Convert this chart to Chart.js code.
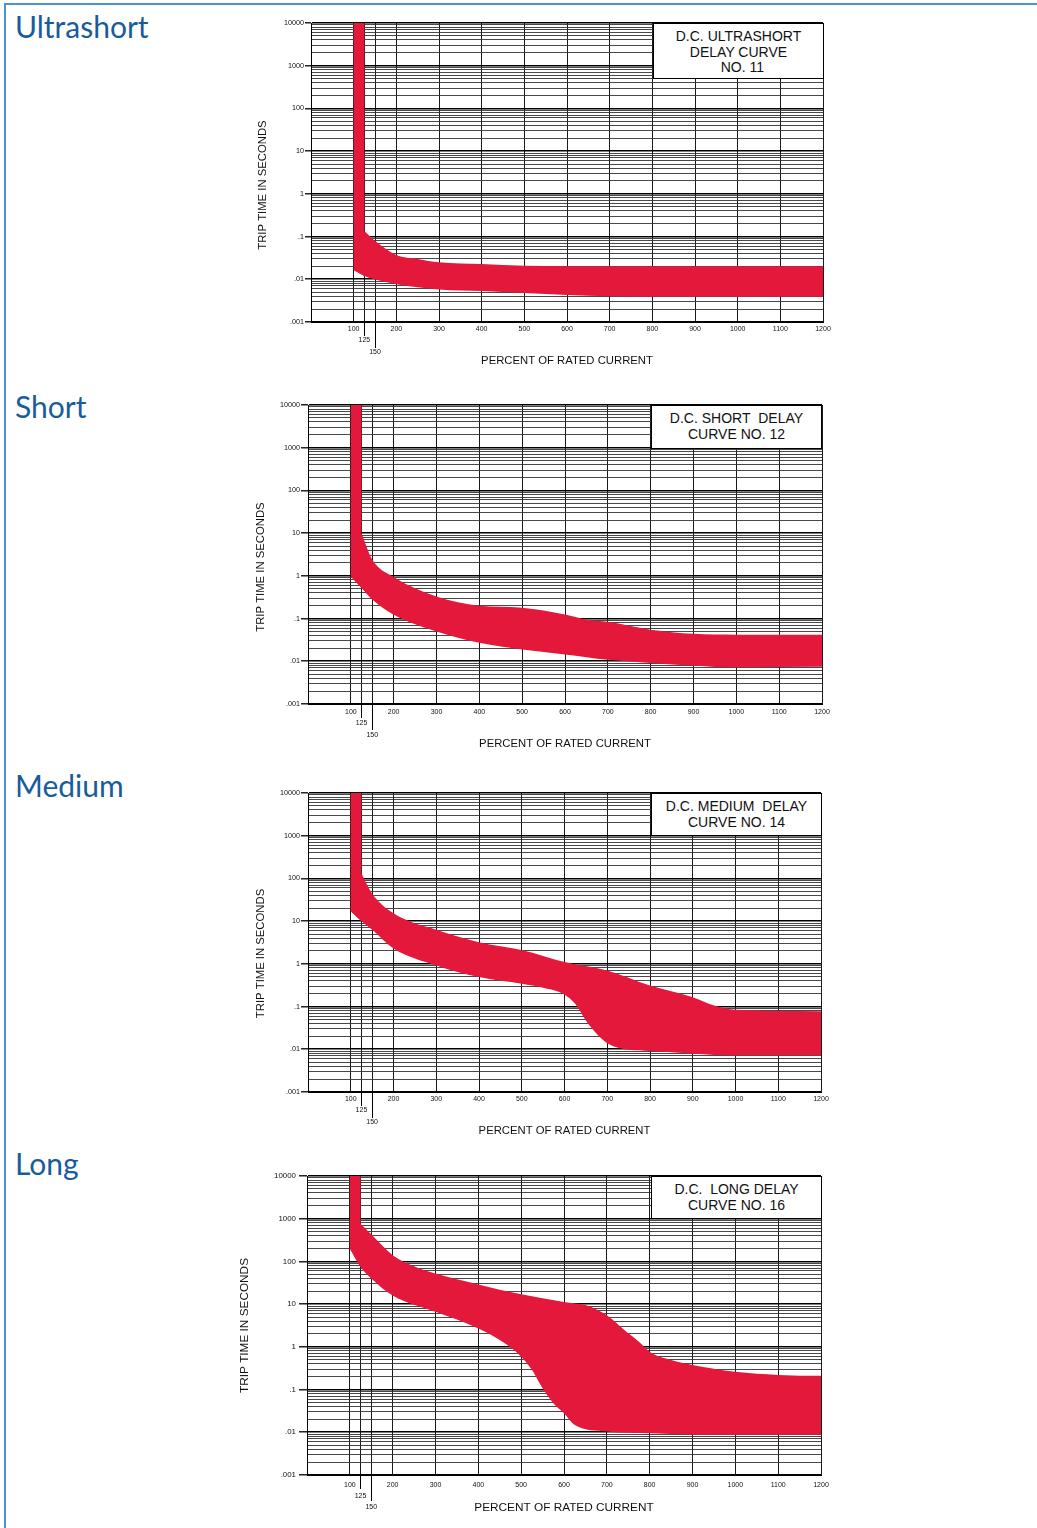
<!DOCTYPE html>
<html>
<head>
<meta charset="utf-8">
<script src="https://cdn.jsdelivr.net/npm/chart.js@4.4.1/dist/chart.umd.min.js"></script>
<style>
  body { margin: 0; background: #fff; width: 1037px; height: 1528px; position: relative; overflow: hidden; }
  .frame-top { position: absolute; left: 4px; top: 3px; width: 1033px; border-top: 2px solid #4a93cc; }
  .frame-left { position: absolute; left: 4px; top: 3px; height: 1525px; border-left: 2px solid #4a93cc; }
  .name { position: absolute; left: 15px; font: 30px/30px Lato, sans-serif; color: #175c9c; }
  .box { position: absolute; border: 1px solid #000; background: #fff; box-sizing: border-box; text-align: center;
         font: 14px/15.5px "Liberation Sans", Arial, sans-serif; color: #111; padding-top: 5px; z-index: 2; }
  canvas { position: absolute; }
</style>
</head>
<body>
<div class="frame-top"></div>
<div class="frame-left"></div>

<div class="name" style="top:11px">Ultrashort</div>
<div class="name" style="top:391px">Short</div>
<div class="name" style="top:770px">Medium</div>
<div class="name" style="top:1148px">Long</div>

<canvas id="c1"></canvas>
<canvas id="c2"></canvas>
<canvas id="c3"></canvas>
<canvas id="c4"></canvas>

<div class="box" style="left:653px;top:23px;width:171px;height:56px">D.C. ULTRASHORT<br>DELAY CURVE<br>&nbsp;&nbsp;NO. 11</div>
<div class="box" style="left:651px;top:405px;width:171px;height:44px">D.C. SHORT&nbsp; DELAY<br>CURVE NO. 12</div>
<div class="box" style="left:651px;top:793px;width:171px;height:43px">D.C. MEDIUM&nbsp; DELAY<br>CURVE NO. 14</div>
<div class="box" style="left:651px;top:1176px;width:171px;height:43px">D.C.&nbsp; LONG DELAY<br>CURVE NO. 16</div>

<script>
// axis ticks
const xTicks = [100, 125, 150, 200, 300, 400, 500, 600, 700, 800, 900, 1000, 1100, 1200];
const xTickLabels = ['100', ['', '125'], ['', '', '150'], '200', '300', '400', '500', '600', '700', '800', '900', '1000', '1100', '1200'];
const decades = [0.001, 0.01, 0.1, 1, 10, 100, 1000, 10000];
const decadeLabels = ['.001', '.01', '.1', '1', '10', '100', '1000', '10000'];
const minorSteps = [2, 3, 4, 5, 6, 7, 8, 9];

// band edges, percent of rated current vs seconds
// first point = top of the vertical part, second = its corner
const ultrashortUpperX = [125, 125, 150, 200, 250, 300, 400, 500, 600, 700, 800, 1000, 1200];
const ultrashortUpperY = [10000, 0.135, 0.08, 0.037, 0.03, 0.025, 0.0227, 0.0207, 0.0203, 0.0203, 0.0203, 0.0203, 0.0203];
const ultrashortLowerX = [100, 100, 125, 150, 200, 300, 400, 500, 600, 700, 800, 1200];
const ultrashortLowerY = [10000, 0.0165, 0.012, 0.0099, 0.0077, 0.0058, 0.0053, 0.0048, 0.0043, 0.004, 0.0039, 0.0039];

const shortUpperX = [125, 125, 150, 200, 300, 400, 500, 600, 650, 700, 800, 900, 1000, 1200];
const shortUpperY = [10000, 10, 2.4, 0.94, 0.33, 0.2, 0.18, 0.125, 0.095, 0.084, 0.055, 0.044, 0.042, 0.042];
const shortLowerX = [100, 100, 125, 150, 200, 300, 400, 500, 600, 700, 800, 900, 1000, 1200];
const shortLowerY = [10000, 0.97, 0.52, 0.28, 0.123, 0.05, 0.027, 0.0188, 0.0144, 0.0108, 0.0091, 0.0079, 0.0072, 0.0074];

const mediumUpperX = [125, 125, 150, 200, 300, 400, 500, 600, 700, 800, 900, 950, 1000, 1200];
const mediumUpperY = [10000, 130, 44, 15.4, 6.3, 3.2, 2.1, 1.1, 0.7, 0.31, 0.166, 0.106, 0.084, 0.078];
const mediumLowerX = [100, 100, 125, 150, 200, 300, 400, 500, 550, 600, 625, 650, 675, 700, 750, 800, 900, 1000, 1200];
const mediumLowerY = [10000, 17, 10, 6.3, 2.3, 0.92, 0.49, 0.34, 0.275, 0.19, 0.116, 0.047, 0.023, 0.0139, 0.0097, 0.0091, 0.0079, 0.0072, 0.0072];

const longUpperX = [125, 125, 150, 200, 250, 300, 400, 500, 600, 650, 700, 750, 775, 800, 850, 900, 1000, 1100, 1200];
const longUpperY = [10000, 760, 430, 140, 77, 52, 29, 17, 11.3, 9.5, 5.5, 2.07, 1.32, 0.77, 0.49, 0.376, 0.26, 0.22, 0.21];
const longLowerX = [100, 100, 125, 150, 200, 300, 400, 450, 500, 525, 550, 575, 600, 625, 700, 800, 1000, 1200];
const longLowerY = [10000, 200, 74, 40, 16, 6.6, 2.7, 1.44, 0.59, 0.29, 0.107, 0.048, 0.028, 0.0149, 0.0105, 0.0095, 0.0087, 0.0087];

Chart.defaults.font.family = '"Liberation Sans", Arial, sans-serif';
Chart.defaults.color = '#111';

const RED = '#e4183a';
const isDecade = v => Math.abs(Math.log10(v) - Math.round(Math.log10(v))) < 1e-6;
const pt = (xs, ys, i) => ({ x: xs[i], y: ys[i] });

function drawCurve(id, upperX, upperY, lowerX, lowerY, lay) {
    // vertical strip at the left, straight edges
    const strip = [pt(lowerX, lowerY, 0), pt(upperX, upperY, 0), pt(upperX, upperY, 1),
                   pt(lowerX, lowerY, 2), pt(lowerX, lowerY, 1)];
    // curved band: upper edge from its corner to the right, lower edge back to its corner
    const band = [];
    for (let i = 1; i < upperX.length; i++) band.push(pt(upperX, upperY, i));
    for (let i = lowerX.length - 1; i >= 1; i--) band.push(pt(lowerX, lowerY, i));

    const [cl, ct, cw, ch] = lay.canvas;
    const el = document.getElementById(id);
    el.width = cw;
    el.height = ch;
    el.style.left = cl + 'px';
    el.style.top = ct + 'px';

    const titleLH = lay.titleFont * 1.2;
    const yTitle = 'TRIP TIME IN SECONDS' + ' '.repeat(lay.yShift);

    new Chart(el, {
        type: 'line',
        data: {
            datasets: [{
                data: strip,
                fill: 'shape',
                backgroundColor: RED,
                borderColor: 'rgba(0,0,0,0)',
                borderWidth: 0,
                pointRadius: 0,
                tension: 0
            }, {
                data: band,
                fill: 'shape',
                backgroundColor: RED,
                borderColor: 'rgba(0,0,0,0)',
                borderWidth: 0,
                pointRadius: 0,
                cubicInterpolationMode: 'monotone'
            }]
        },
        options: {
            responsive: false,
            devicePixelRatio: 1,
            animation: false,
            events: [],
            layout: { padding: { left: 0, top: lay.T - ct, right: cl + cw - lay.R, bottom: 0 } },
            plugins: { legend: { display: false }, tooltip: { enabled: false } },
            scales: {
                x: {
                    type: 'linear',
                    min: 0,
                    max: 1200,
                    afterBuildTicks: s => { s.ticks = xTicks.map(v => ({ value: v })); },
                    afterFit: s => { s.height = ct + ch - lay.B; },
                    ticks: {
                        autoSkip: false,
                        minRotation: 0,
                        maxRotation: 0,
                        padding: lay.xLabelY - 26 - lay.xLine / 2,
                        font: { size: 7, lineHeight: lay.xLine + 'px' },
                        callback: (v, i) => xTickLabels[i]
                    },
                    grid: {
                        color: '#1a1a1a',
                        lineWidth: 1,
                        tickLength: 26,
                        tickWidth: 1,
                        tickColor: c => (c.tick && (c.tick.value === 125 || c.tick.value === 150)) ? '#000' : 'rgba(0,0,0,0)',
                        tickBorderDash: c => (c.tick && c.tick.value === 125) ? [13, 100] : []
                    },
                    border: { display: true, color: '#000', width: 1 },
                    title: {
                        display: true,
                        text: 'PERCENT OF RATED CURRENT',
                        color: '#111',
                        font: { size: lay.titleFont, lineHeight: 1.2 },
                        padding: { top: 0, bottom: ct + ch - lay.xTitleY - titleLH / 2 }
                    }
                },
                y: {
                    type: 'logarithmic',
                    min: 0.001,
                    max: 10000,
                    afterBuildTicks: s => {
                        const t = [];
                        decades.forEach((d, i) => {
                            t.push({ value: d });
                            if (i < decades.length - 1) minorSteps.forEach(m => t.push({ value: d * m }));
                        });
                        s.ticks = t;
                    },
                    afterFit: s => { s.width = lay.L - cl; },
                    ticks: {
                        autoSkip: false,
                        padding: lay.yPad,
                        font: { size: lay.yFont },
                        callback: v => {
                            const i = decades.findIndex(d => Math.abs(d - v) / d < 1e-6);
                            return i >= 0 ? decadeLabels[i] : '';
                        }
                    },
                    grid: {
                        color: c => (c.tick && isDecade(c.tick.value)) ? '#000' : '#333',
                        lineWidth: c => (c.tick && isDecade(c.tick.value)) ? 1.6 : 0.9,
                        tickLength: lay.yTick,
                        tickWidth: 1.3,
                        tickColor: c => (c.tick && isDecade(c.tick.value)) ? '#000' : 'rgba(0,0,0,0)'
                    },
                    border: { display: true, color: '#000', width: 1 },
                    title: {
                        display: true,
                        text: yTitle,
                        color: '#111',
                        font: { size: lay.titleFont, lineHeight: 1.2 },
                        padding: { top: lay.yTitleX - cl - titleLH / 2, bottom: 0 }
                    }
                }
            }
        }
    });
}

drawCurve('c1', ultrashortUpperX, ultrashortUpperY, ultrashortLowerX, ultrashortLowerY,
    { canvas: [225, 8, 620, 372], L: 311, T: 23, R: 823, B: 322, yTitleX: 263, yShift: 8, xTitleY: 361,
      xLabelY: 7, xLine: 11.5, yTick: 6, yPad: 1, yFont: 7.2, titleFont: 11.3 });
drawCurve('c2', shortUpperX, shortUpperY, shortLowerX, shortLowerY,
    { canvas: [225, 390, 620, 372], L: 308, T: 405, R: 822, B: 704, yTitleX: 261, yShift: 8, xTitleY: 744,
      xLabelY: 8, xLine: 11.5, yTick: 7, yPad: 1, yFont: 7.2, titleFont: 11.3 });
drawCurve('c3', mediumUpperX, mediumUpperY, mediumLowerX, mediumLowerY,
    { canvas: [225, 778, 620, 372], L: 308, T: 793, R: 821, B: 1092, yTitleX: 261, yShift: 7, xTitleY: 1131,
      xLabelY: 7, xLine: 11.5, yTick: 7, yPad: 1, yFont: 7.2, titleFont: 11.3 });
drawCurve('c4', longUpperX, longUpperY, longLowerX, longLowerY,
    { canvas: [225, 1161, 620, 362], L: 307, T: 1176, R: 821, B: 1475, yTitleX: 245, yShift: 0, xTitleY: 1508,
      xLabelY: 10, xLine: 11, yTick: 8, yPad: 3, yFont: 7.9, titleFont: 11.8 });
</script>
</body>
</html>
